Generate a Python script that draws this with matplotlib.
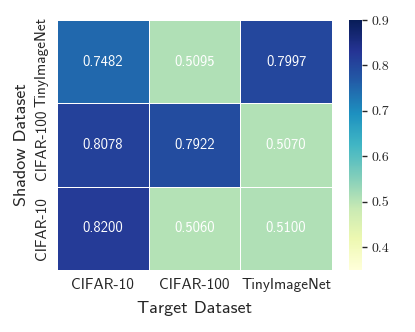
import numpy as np
import matplotlib
matplotlib.use("Agg")
import matplotlib.pyplot as plt
import seaborn as sns

targets = ["CIFAR-10", "CIFAR-100", "TinyImageNet"]
shadows = ["TinyImageNet", "CIFAR-100", "CIFAR-10"]
row_tiny = [0.7482, 0.5095, 0.7997]
row_c100 = [0.8078, 0.7922, 0.5070]
row_c10 = [0.8200, 0.5060, 0.5100]
values = np.array([row_tiny, row_c100, row_c10])

SANS = "cmss10"
fig = plt.figure(figsize=(4.15, 3.32), dpi=100)
ax = fig.add_axes([57/415, 1-270/332, (332-57)/415, 250/332])
cax = fig.add_axes([349/415, 1-270/332, 13/415, 250/332])

sns.heatmap(values, ax=ax, cbar_ax=cax, cmap="YlGnBu", vmin=0.35, vmax=0.9,
            annot=True, fmt=".4f", linewidths=0.5, linecolor="white",
            annot_kws={"color": "white", "fontsize": 10.5, "family": SANS},
            xticklabels=targets, yticklabels=shadows)

ax.tick_params(axis="x", length=0, labelsize=11, colors="#262626", pad=6)
ax.tick_params(axis="y", length=0, labelsize=11, colors="#262626", pad=6)
for t in ax.get_xticklabels():
    t.set_family(SANS)
for t in ax.get_yticklabels():
    t.set_family(SANS)
    t.set_rotation(90)
    t.set_va("center")
ax.set_xlabel("Target Dataset", fontsize=13, family=SANS, color="#262626", labelpad=6)
ax.set_ylabel("Shadow Dataset", fontsize=13, family=SANS, color="#262626", labelpad=4)

cax.set_yticks([0.4, 0.5, 0.6, 0.7, 0.8, 0.9])
cax.tick_params(labelsize=10, length=3.5, width=1, colors="#262626")
for t in cax.get_yticklabels():
    t.set_family("cmr10")
cax.set_frame_on(False)

fig.savefig("out.png", dpi=100)
